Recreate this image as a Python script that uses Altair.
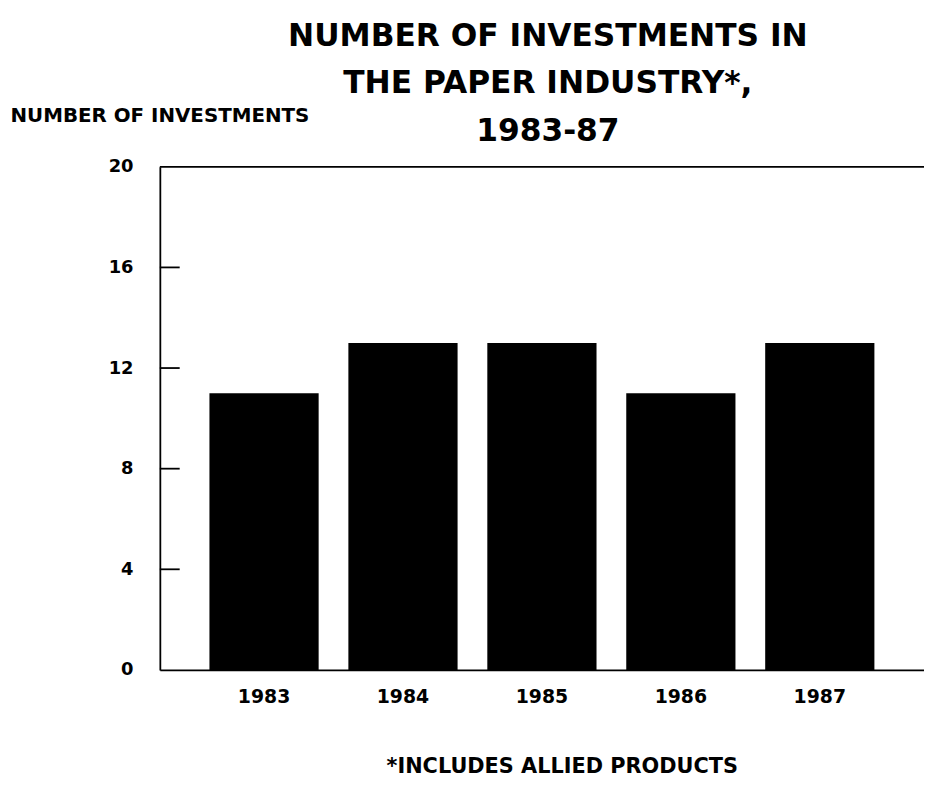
import altair as alt
import pandas as pd

# ---- data ----
years = ["1983", "1984", "1985", "1986", "1987"]
investments = [11, 13, 13, 11, 13]
y_tick_values = [0, 4, 8, 12, 16, 20]
inner_tick_values = [4, 8, 12, 16]
title_lines = ["NUMBER OF INVESTMENTS IN", "THE PAPER INDUSTRY*,", "1983-87"]
y_title = "NUMBER OF INVESTMENTS"
footnote = "*INCLUDES ALLIED PRODUCTS"

FONT = "DejaVu Sans"
W, H = 770, 507

df = pd.DataFrame({"year": years, "n": investments})
ticks_df = pd.DataFrame({"v": inner_tick_values})
one_row = pd.DataFrame({"k": [0]})

y_axis = alt.Axis(
    values=y_tick_values, ticks=False, grid=False,
    labelFont=FONT, labelFontWeight="bold", labelFontSize=18, labelColor="black",
    labelPadding=27,
    domainColor="black", domainWidth=1.8,
    title=y_title, titleAngle=0, titleX=-151, titleY=-52,
    titleAlign="left", titleBaseline="middle",
    titleFont=FONT, titleFontWeight="bold", titleFontSize=20, titleColor="black",
)
y_scale = alt.Scale(domain=[0, 20], nice=False)

x_axis = alt.Axis(
    labelAngle=0, ticks=False, grid=False,
    labelFont=FONT, labelFontWeight="bold", labelFontSize=19, labelColor="black",
    labelPadding=18,
    domainColor="black", domainWidth=1.8,
    title=footnote, titleX=405, titleY=97, titleAlign="center", titleBaseline="middle",
    titleFont=FONT, titleFontWeight="bold", titleFontSize=21, titleColor="black",
)

bars = alt.Chart(df).mark_bar(color="black").encode(
    x=alt.X("year:O", axis=x_axis,
            scale=alt.Scale(paddingInner=0.214, paddingOuter=0.357)),
    y=alt.Y("n:Q", axis=y_axis, scale=y_scale),
)

# short inward tick marks on the y axis (drawn inside the plot frame)
ticks = alt.Chart(ticks_df).mark_rule(color="black", strokeWidth=1.8).encode(
    y=alt.Y("v:Q", axis=y_axis, scale=y_scale),
    x=alt.value(0),
    x2=alt.value(20),
)

top_border = alt.Chart(one_row).mark_rule(color="black", strokeWidth=1.8).encode(
    x=alt.value(0), x2=alt.value(W), y=alt.value(0)
)

title = alt.Chart(one_row).mark_text(
    font=FONT, fontWeight="bold", fontSize=31.5, lineHeight=48,
    align="center", baseline="alphabetic", color="black",
).encode(x=alt.value(391), y=alt.value(-122), text=alt.value(title_lines))

chart = alt.layer(bars, ticks, top_border, title).properties(
    width=W, height=H,
    autosize=alt.AutoSizeParams(type="none"),
    padding={"left": 153, "top": 157, "right": 0, "bottom": 120},
    background="white",
).configure_view(stroke=None)

chart.save("out.html", embed_options={"renderer": "svg", "actions": False})
